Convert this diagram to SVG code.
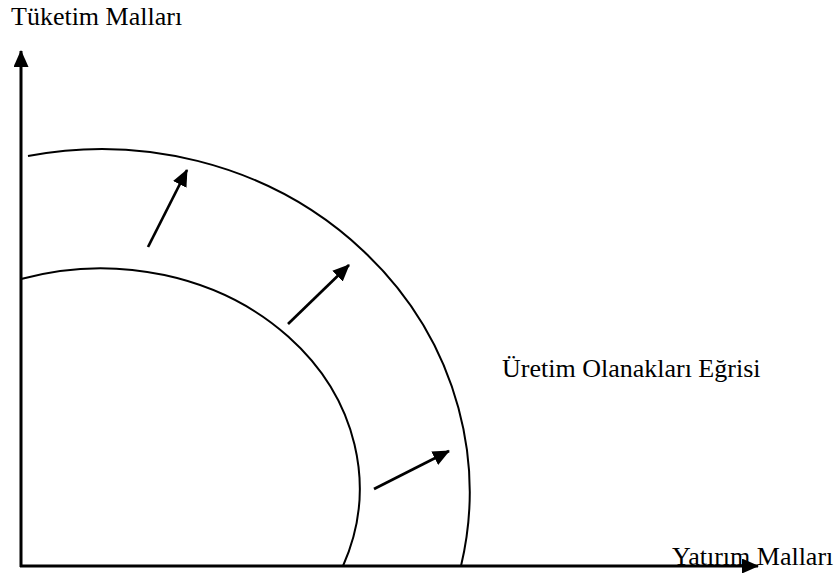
<svg xmlns="http://www.w3.org/2000/svg" width="838" height="573" viewBox="0 0 838 573">
<style>
.lbl{font-family:"Liberation Serif","Times New Roman",serif;font-size:26px;fill:#000}
.ax{stroke:#000;stroke-width:3;fill:none}
.crv{stroke:#000;stroke-width:2;fill:none}
.arr{stroke:#000;stroke-width:2.7;fill:none}
</style>
<defs>
<marker id="ah" viewBox="0 0 17 15" refX="16" refY="7.5" markerWidth="17" markerHeight="15" orient="auto" markerUnits="userSpaceOnUse">
<path d="M0,0 L17,7.5 L0,15 z" fill="#000"/>
</marker>
</defs>
<rect width="838" height="573" fill="#fff"/>
<g id="curves">
<path id="outer-curve" class="crv" d="M28,156 A368,343 0 0 1 461,566"/>
<path id="inner-curve" class="crv" d="M21,279 A259,220 0 0 1 343,566"/>
</g>
<g id="connectors">
<line class="ax" x1="21" y1="567" x2="21" y2="51" marker-end="url(#ah)"/>
<line class="ax" x1="20" y1="566" x2="758" y2="566" marker-end="url(#ah)"/>
<line class="arr" x1="148" y1="247" x2="187" y2="170" marker-end="url(#ah)"/>
<line class="arr" x1="288" y1="324" x2="349" y2="265" marker-end="url(#ah)"/>
<line class="arr" x1="374" y1="489" x2="449" y2="451" marker-end="url(#ah)"/>
</g>
<g id="label-y"><text class="lbl" x="11" y="25">Tüketim Malları</text></g>
<g id="label-curve"><text class="lbl" x="502" y="377">Üretim Olanakları Eğrisi</text></g>
<g id="label-x"><text class="lbl" x="672" y="565">Yatırım Malları</text></g>
</svg>
